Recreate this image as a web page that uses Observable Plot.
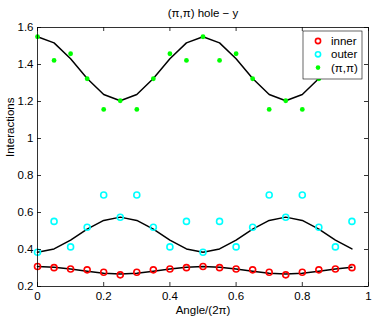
<!DOCTYPE html>
<html>
<head>
<meta charset="utf-8">
<script src="https://cdn.jsdelivr.net/npm/d3@7"></script>
<script src="https://cdn.jsdelivr.net/npm/@observablehq/plot@0.6"></script>
<style>
  html, body { margin: 0; padding: 0; background: #fff; }
  svg { font-family: "Liberation Sans", Arial, sans-serif; }
</style>
</head>
<body>
<div id="chart"></div>
<script>
const angles = [0, 0.05, 0.1, 0.15, 0.2, 0.25, 0.3, 0.35, 0.4, 0.45, 0.5, 0.55, 0.6, 0.65, 0.7, 0.75, 0.8, 0.85, 0.9, 0.95];
const innerVals = [0.308, 0.302, 0.295, 0.290, 0.277, 0.263, 0.277, 0.290, 0.295, 0.302, 0.308, 0.302, 0.295, 0.290, 0.277, 0.263, 0.277, 0.290, 0.295, 0.302];
const innerFit  = [0.308, 0.304, 0.294, 0.282, 0.272, 0.268, 0.272, 0.282, 0.294, 0.304, 0.308, 0.304, 0.294, 0.282, 0.272, 0.268, 0.272, 0.282, 0.294, 0.304];
const outerVals = [0.385, 0.552, 0.414, 0.520, 0.695, 0.574, 0.695, 0.520, 0.414, 0.552, 0.385, 0.552, 0.414, 0.520, 0.695, 0.574, 0.695, 0.520, 0.414, 0.552];
const outerFit  = [0.385, 0.403, 0.451, 0.510, 0.557, 0.575, 0.557, 0.510, 0.451, 0.403, 0.385, 0.403, 0.451, 0.510, 0.557, 0.575, 0.557, 0.510, 0.451, 0.403];
const pipiVals  = [1.550, 1.422, 1.458, 1.323, 1.157, 1.204, 1.157, 1.323, 1.458, 1.422, 1.550, 1.422, 1.458, 1.323, 1.157, 1.204, 1.157, 1.323, 1.458, 1.422];
const pipiFit   = [1.550, 1.517, 1.431, 1.324, 1.238, 1.204, 1.238, 1.324, 1.431, 1.517, 1.550, 1.517, 1.431, 1.324, 1.238, 1.204, 1.238, 1.324, 1.431, 1.517];
const xTicks = [0, 0.2, 0.4, 0.6, 0.8, 1];
const yTicks = [0.2, 0.4, 0.6, 0.8, 1, 1.2, 1.4, 1.6];
const seriesNames = ["inner", "outer", "(\u03c0,\u03c0)"];
const seriesColors = ["#ff0000", "#00ffff", "#00ff00"];
const titleText = "(\u03c0,\u03c0) hole \u2212 y";
const xLabel = "Angle/(2\u03c0)";
const yLabel = "Interactions";

const W = 374, H = 318, mL = 37, mR = 6, mT = 27, mB = 32;
const innerH = H - mT - mB;
const innerW = W - mL - mR;
const FS = 11.5;

const rows = angles.map((a, i) => ({a, inner: innerVals[i], outer: outerVals[i], pipi: pipiVals[i],
  innerFit: innerFit[i], outerFit: outerFit[i], pipiFit: pipiFit[i]}));

const tl = 4;
const plot = Plot.plot({
  width: W, height: H,
  marginLeft: mL, marginRight: mR, marginTop: mT, marginBottom: mB,
  style: {fontSize: FS + "px", fontFamily: "Liberation Sans, Arial, sans-serif", color: "black", background: "white"},
  x: {domain: [0, 1]},
  y: {domain: [0.2, 1.6]},
  marks: [
    Plot.line(rows, {x: "a", y: "pipiFit", stroke: "black", strokeWidth: 1.5}),
    Plot.line(rows, {x: "a", y: "outerFit", stroke: "black", strokeWidth: 1.5}),
    Plot.line(rows, {x: "a", y: "innerFit", stroke: "black", strokeWidth: 1.5}),
    Plot.dot(rows, {x: "a", y: "inner", r: 3, stroke: seriesColors[0], strokeWidth: 1.6, fill: "none"}),
    Plot.dot(rows, {x: "a", y: "outer", r: 3, stroke: seriesColors[1], strokeWidth: 1.6, fill: "none"}),
    Plot.dot(rows, {x: "a", y: "pipi", r: 2.4, fill: seriesColors[2], stroke: "none"}),
    Plot.frame({stroke: "black", strokeWidth: 0.8}),
    Plot.tickX(xTicks, {x: d => d, stroke: "black", strokeWidth: 0.8, insetTop: innerH - tl}),
    Plot.tickX(xTicks, {x: d => d, stroke: "black", strokeWidth: 0.8, insetBottom: innerH - tl}),
    Plot.tickY(yTicks, {y: d => d, stroke: "black", strokeWidth: 0.8, insetRight: innerW - tl}),
    Plot.tickY(yTicks, {y: d => d, stroke: "black", strokeWidth: 0.8, insetLeft: innerW - tl}),
    Plot.axisX({ticks: xTicks, tickSize: 0, tickPadding: 5, label: null, tickFormat: d => String(d)}),
    Plot.axisY({ticks: yTicks, tickSize: 0, tickPadding: 4, label: null, tickFormat: d => String(d)}),
    Plot.text([titleText], {text: d => d, frameAnchor: "top", dy: -19, fontSize: FS}),
    Plot.text([xLabel], {text: d => d, frameAnchor: "bottom", dy: 27, fontSize: FS}),
    Plot.text([yLabel], {text: d => d, frameAnchor: "left", dx: -27, rotate: -90, fontSize: FS})
  ]
});
document.getElementById("chart").appendChild(plot);

// legend
const svg = d3.select(plot);
const lg = svg.append("g").attr("font-family", "Liberation Sans, Arial, sans-serif")
  .attr("font-size", FS).attr("text-anchor", "start");
const lx = 303, ly = 31, lw = 59, lh = 48;
lg.append("rect").attr("x", lx).attr("y", ly).attr("width", lw).attr("height", lh)
  .attr("fill", "white").attr("stroke", "black").attr("stroke-width", 0.6);
seriesNames.forEach((name, i) => {
  const cy = ly + 10 + i * 13.3;
  if (i < 2) {
    lg.append("circle").attr("cx", lx + 15).attr("cy", cy).attr("r", 2.6)
      .attr("fill", "none").attr("stroke", seriesColors[i]).attr("stroke-width", 1.6);
  } else {
    lg.append("circle").attr("cx", lx + 15).attr("cy", cy).attr("r", 2.3).attr("fill", seriesColors[i]);
  }
  lg.append("text").attr("x", lx + 28).attr("y", cy).attr("dy", "0.35em")
    .attr("text-anchor", "start").text(name);
});
</script>
</body>
</html>
